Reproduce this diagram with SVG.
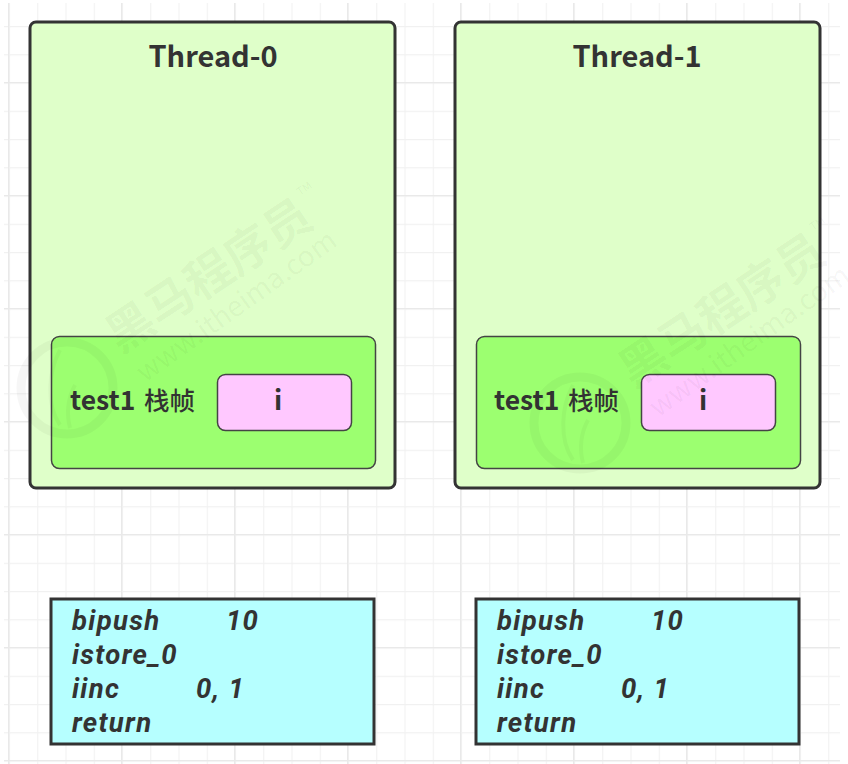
<svg xmlns="http://www.w3.org/2000/svg" width="848" height="764" viewBox="0 0 848 764">
<defs>
<pattern id="minor" width="28.25" height="28.25" patternUnits="userSpaceOnUse" x="9" y="-2.25"><path d="M0.5 0V28.25M0 0.5H28.25" fill="none" stroke="#f1f1f1" stroke-width="1.2"/></pattern>
<pattern id="major" width="113" height="113" patternUnits="userSpaceOnUse" x="121" y="82"><path d="M0.5 0V113M0 0.5H113" fill="none" stroke="#e9e9e9" stroke-width="1.4"/></pattern>
<g id="wm">
<circle class="wmc" cx="67" cy="388" r="46"/>
<path class="wmi" d="M60 350C48 372 46 405 60 425M75 385C68 398 66 412 70 428"/>
<text class="wm1" transform="translate(120 354) rotate(-33.500)">黑马程序员</text>
<text class="wm2" transform="translate(145 383) rotate(-35.500)">www.itheima.com</text>
<text class="wm3" transform="translate(300 196) rotate(-35)">TM</text>
</g>
</defs>
<style>
text{font-family:"Noto Sans CJK SC","Noto Sans",sans-serif;fill:#333}
.t{font-size:29px;font-weight:700;text-anchor:middle}
.i{font-size:27px;font-weight:700;text-anchor:middle}
.l{font-size:26.500px;font-weight:700}
.z{font-size:25.500px;font-weight:500}
.c{font-family:Roboto,"Noto Sans",sans-serif;font-size:27.500px;font-weight:700;font-style:italic;letter-spacing:1.3px}
.thread{fill:#dfffc9;stroke:#333;stroke-width:3}
.frame{fill:#9cff70;stroke:#444;stroke-width:1.5}
.var{fill:#ffc8ff;stroke:#444;stroke-width:1.5}
.code{fill:#b6ffff;stroke:#333;stroke-width:3}
.wm1{font-size:47px;font-weight:700;fill:#000;fill-opacity:.04}
.wm2{font-size:28px;font-weight:400;fill:#000;fill-opacity:.045}
.wm3{font-size:11px;fill:#000;fill-opacity:.05}
.wmc{fill:none;stroke:#000;stroke-opacity:.035;stroke-width:9}
.wmi{fill:none;stroke:#000;stroke-opacity:.03;stroke-width:4}
</style>
<rect width="848" height="764" fill="#fff"/>
<rect x="4" y="3" width="836" height="761" fill="url(#minor)"/>
<rect x="4" y="3" width="836" height="761" fill="url(#major)"/>
<g id="thread-0">
<rect class="thread" x="30" y="22" width="365" height="466" rx="6"/>
<text class="t" x="213" y="67">Thread-0</text>
</g>
<g id="frame-0">
<rect class="frame" x="51.500" y="336.500" width="324" height="132" rx="8"/>
<text class="l" x="70" y="410">test1</text><text class="z" x="144" y="410">栈帧</text>
</g>
<g id="var-0">
<rect class="var" x="217.500" y="374.500" width="134" height="56" rx="8"/>
<text class="i" x="278" y="410">i</text>
</g>
<g id="thread-1">
<rect class="thread" x="455" y="22" width="365" height="466" rx="6"/>
<text class="t" x="637" y="67">Thread-1</text>
</g>
<g id="frame-1">
<rect class="frame" x="476.500" y="336.500" width="324" height="132" rx="8"/>
<text class="l" x="494" y="410">test1</text><text class="z" x="568" y="410">栈帧</text>
</g>
<g id="var-1">
<rect class="var" x="641.500" y="374.500" width="134" height="56" rx="8"/>
<text class="i" x="703" y="410">i</text>
</g>
<g id="code-0">
<rect class="code" x="51" y="599" width="323" height="145"/>
<text class="c" x="72" y="630">bipush</text><text class="c" x="226" y="630">10</text>
<text class="c" x="72" y="664">istore_0</text>
<text class="c" x="72" y="698">iinc</text><text class="c" x="196" y="698">0, 1</text>
<text class="c" x="72" y="732">return</text>
</g>
<g id="code-1">
<rect class="code" x="476" y="599" width="323" height="145"/>
<text class="c" x="497" y="630">bipush</text><text class="c" x="651" y="630">10</text>
<text class="c" x="497" y="664">istore_0</text>
<text class="c" x="497" y="698">iinc</text><text class="c" x="621" y="698">0, 1</text>
<text class="c" x="497" y="732">return</text>
</g>
<use href="#wm"/>
<use href="#wm" x="513" y="35"/>
<g id="connectors"/>
</svg>
